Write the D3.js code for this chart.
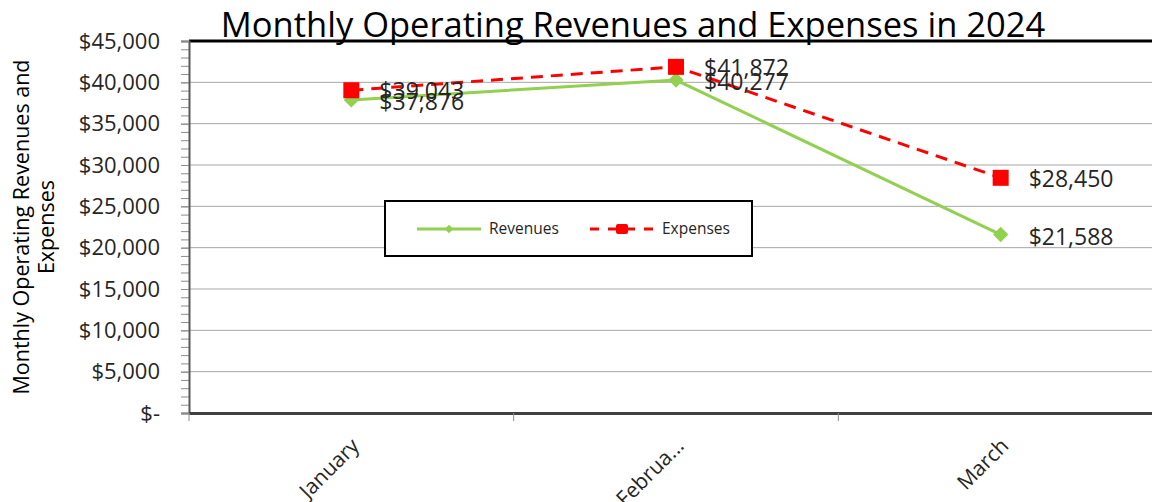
<!DOCTYPE html>
<html>
<head>
<meta charset="utf-8">
<script src="https://cdn.jsdelivr.net/npm/d3@7"></script>
<style>
  body { margin: 0; background: #fff; }
  svg { display: block; font-family: "Open Sans", sans-serif; }
</style>
</head>
<body>
<div id="chart"></div>
<script>
const months = ['January', 'February', 'March'];
const monthLabels = ['January', 'Februa...', 'March'];
const revenues = [37876, 40277, 21588];
const expenses = [39043, 41872, 28450];
const yTicks = [0, 5000, 10000, 15000, 20000, 25000, 30000, 35000, 40000, 45000];

const W = 1152;
const H = 502;
const margin = { top: 41, right: -11, bottom: 89, left: 189 };
const width = W - margin.left - margin.right;
const height = H - margin.top - margin.bottom;

const svg = d3.select('#chart')
  .append('svg')
    .attr('width', W)
    .attr('height', H);

const chart = svg.append('g')
    .attr('transform', `translate(${margin.left},${margin.top})`);

const x = d3.scaleBand()
  .domain(months)
  .range([0, width]);

const y = d3.scaleLinear()
  .domain([0, 45000])
  .range([height, 0]);

const money = d => d === 0 ? '$-' : '$' + d3.format(',')(d);

// gridlines
chart.append('g')
  .selectAll('line')
  .data(yTicks)
  .join('line')
    .attr('x1', 0)
    .attr('x2', width)
    .attr('y1', d => y(d))
    .attr('y2', d => y(d))
    .attr('stroke', '#a6a6a6')
    .attr('stroke-width', 1);

// top border
chart.append('line')
    .attr('x1', 0)
    .attr('x2', width)
    .attr('y1', 0)
    .attr('y2', 0)
    .attr('stroke', '#000')
    .attr('stroke-width', 3);

// minor ticks on y axis
chart.append('g')
    .call(d3.axisLeft(y).ticks(45).tickSize(8).tickFormat(''))
    .call(g => g.select('.domain').remove())
    .call(g => g.selectAll('line').attr('stroke', '#8c8c8c'));

// y axis
const yAxis = chart.append('g')
    .call(d3.axisLeft(y).tickValues(yTicks).tickSize(8).tickPadding(21).tickFormat(money));
yAxis.select('.domain').attr('stroke', '#595959').attr('stroke-width', 2);
yAxis.selectAll('line').attr('stroke', '#8c8c8c');
yAxis.selectAll('text')
    .attr('font-size', 22)
    .attr('fill', '#262626')
    .attr('font-family', '"Open Sans", sans-serif');

// x axis
const xAxis = chart.append('g')
    .attr('transform', `translate(0,${height})`)
    .call(d3.axisBottom(x).tickSize(0).tickFormat(''));
xAxis.select('.domain').attr('stroke', '#404040').attr('stroke-width', 3);

// x category boundary ticks
chart.append('g')
  .selectAll('line')
  .data(months)
  .join('line')
    .attr('x1', d => x(d))
    .attr('x2', d => x(d))
    .attr('y1', height)
    .attr('y2', height + 8)
    .attr('stroke', '#8c8c8c');

// x labels
chart.append('g')
  .selectAll('text')
  .data(months)
  .join('text')
    .attr('transform', d => `translate(${x(d) + x.bandwidth() / 2 + 4},${height + 29}) rotate(-45)`)
    .attr('text-anchor', 'end')
    .attr('dy', '0.35em')
    .attr('font-size', 21)
    .attr('fill', '#262626')
    .text((d, i) => monthLabels[i]);

const cx = d => x(d) + x.bandwidth() / 2;

// expenses series
chart.append('path')
    .datum(expenses)
    .attr('fill', 'none')
    .attr('stroke', '#ff0000')
    .attr('stroke-width', 3)
    .attr('stroke-dasharray', '12,8')
    .attr('d', d3.line().x((d, i) => cx(months[i])).y(d => y(d)));

// revenues series
chart.append('path')
    .datum(revenues)
    .attr('fill', 'none')
    .attr('stroke', '#92d050')
    .attr('stroke-width', 3)
    .attr('d', d3.line().x((d, i) => cx(months[i])).y(d => y(d)));

chart.append('g')
  .selectAll('path')
  .data(revenues)
  .join('path')
    .attr('transform', (d, i) => `translate(${cx(months[i])},${y(d)})`)
    .attr('d', d3.symbol(d3.symbolDiamond2, 150))
    .attr('fill', '#92d050');

chart.append('g')
  .selectAll('rect')
  .data(expenses)
  .join('rect')
    .attr('x', (d, i) => cx(months[i]) - 8)
    .attr('y', d => y(d) - 8)
    .attr('width', 16)
    .attr('height', 16)
    .attr('fill', '#ff0000');

// data labels
const labelStyle = sel => sel
    .attr('font-size', 23)
    .attr('fill', '#262626')
    .attr('dy', '0.35em');

chart.append('g')
  .selectAll('text')
  .data(expenses)
  .join('text')
    .attr('x', (d, i) => cx(months[i]) + 28)
    .attr('y', d => y(d) + 1)
    .call(labelStyle)
    .text(money);

chart.append('g')
  .selectAll('text')
  .data(revenues)
  .join('text')
    .attr('x', (d, i) => cx(months[i]) + 28)
    .attr('y', d => y(d) + 2)
    .call(labelStyle)
    .text(money);

// legend
const legend = svg.append('g')
    .attr('transform', 'translate(385,201)');
legend.append('rect')
    .attr('width', 367)
    .attr('height', 55)
    .attr('fill', '#fff')
    .attr('stroke', '#000')
    .attr('stroke-width', 2);

const legendItems = [
  { name: 'Revenues', color: '#92d050', dash: null, x0: 32 },
  { name: 'Expenses', color: '#ff0000', dash: '9,9', x0: 205 }
];
legendItems.forEach((item, i) => {
  const g = legend.append('g').attr('transform', `translate(${item.x0},28)`);
  g.append('line')
      .attr('x1', 0)
      .attr('x2', 64)
      .attr('stroke', item.color)
      .attr('stroke-width', 3)
      .attr('stroke-dasharray', item.dash);
  if (i === 0) {
    g.append('path')
        .attr('transform', 'translate(32,0)')
        .attr('d', d3.symbol(d3.symbolDiamond2, 45))
        .attr('fill', item.color);
  } else {
    g.append('rect')
        .attr('x', 26)
        .attr('y', -5)
        .attr('width', 12)
        .attr('height', 10)
        .attr('rx', 2)
        .attr('fill', item.color);
  }
  g.append('text')
      .attr('x', 72)
      .attr('dy', '0.35em')
      .attr('font-size', 15.5)
      .attr('fill', '#262626')
      .text(item.name);
});

// title
svg.append('text')
    .attr('x', 633)
    .attr('y', 37)
    .attr('text-anchor', 'middle')
    .attr('font-size', 34.5)
    .attr('fill', '#000')
    .text('Monthly Operating Revenues and Expenses in 2024');

// y axis title
const yTitle = svg.append('text')
    .attr('transform', 'translate(35,227) rotate(-90)')
    .attr('text-anchor', 'middle')
    .attr('font-size', 21.5)
    .attr('fill', '#000');
yTitle.append('tspan').attr('x', 0).attr('dy', '-0.3em').text('Monthly Operating Revenues and');
yTitle.append('tspan').attr('x', 0).attr('dy', '1.2em').text('Expenses');
</script>
</body>
</html>
